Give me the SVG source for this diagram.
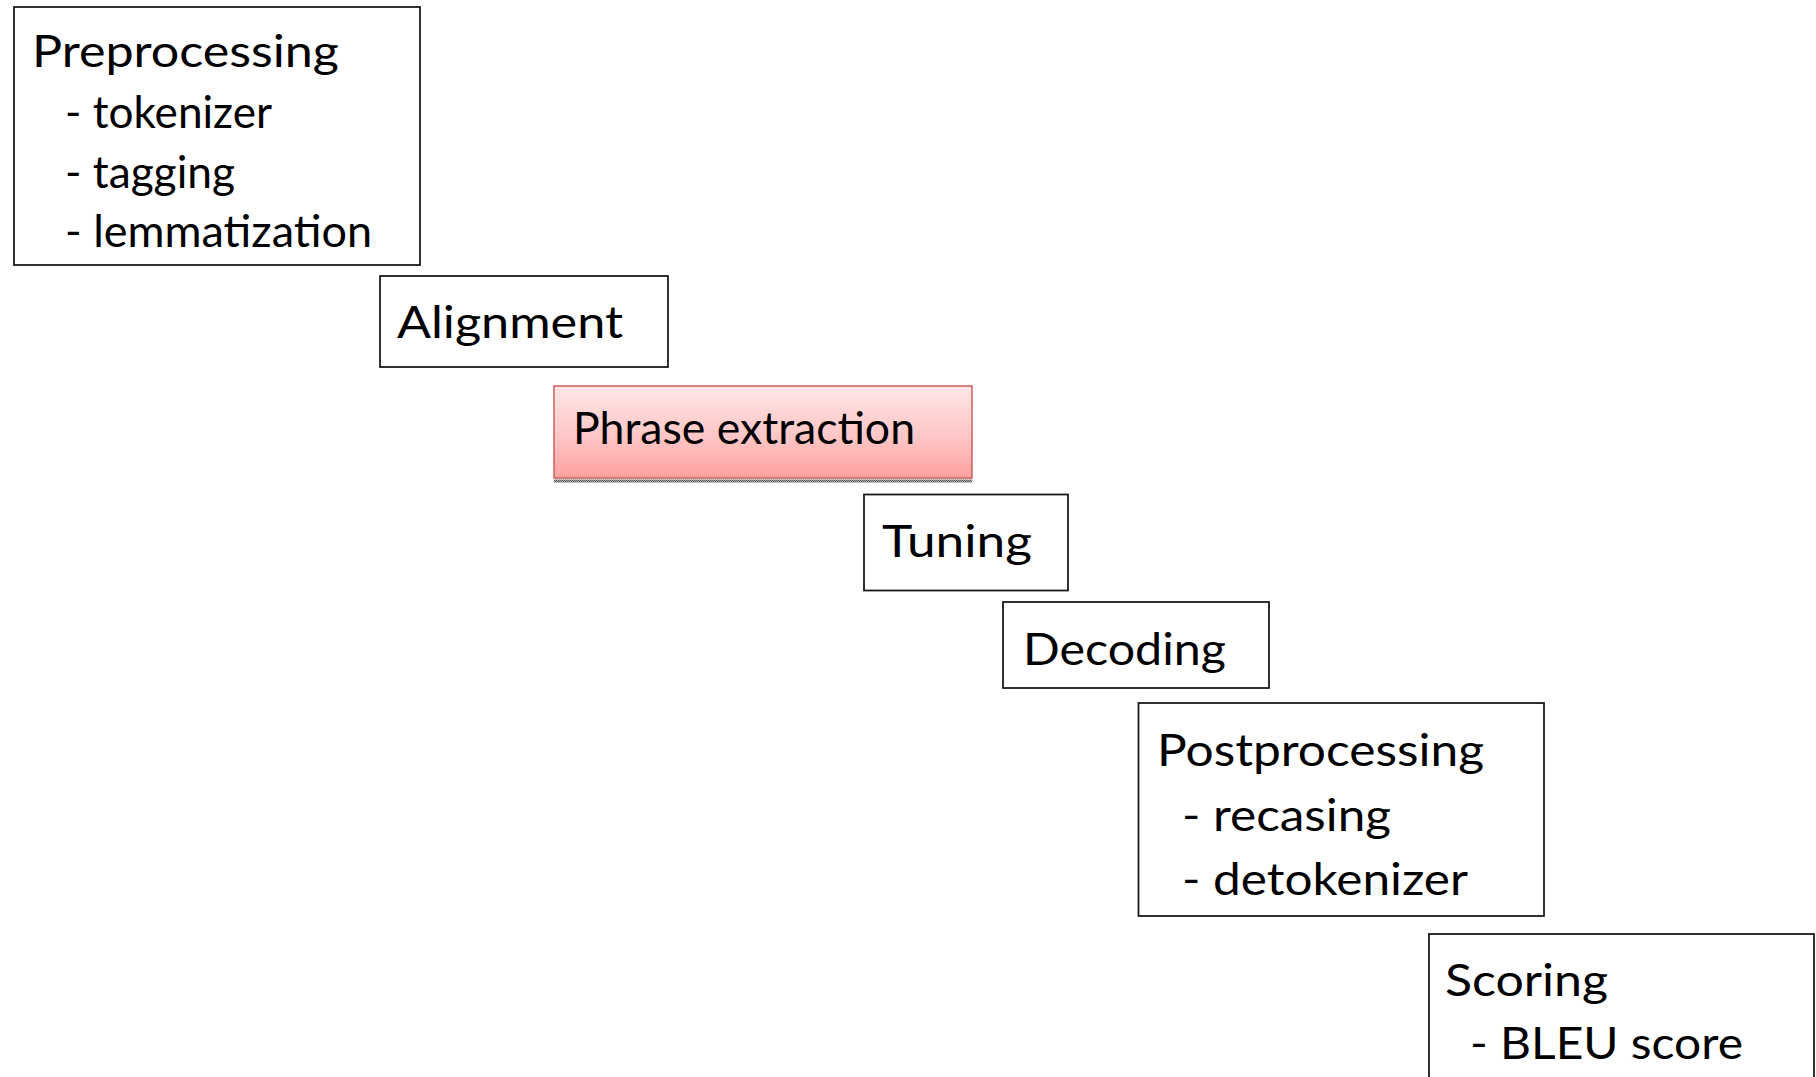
<svg xmlns="http://www.w3.org/2000/svg" width="1816" height="1077" viewBox="0 0 1816 1077">
  <style>
    .box { fill: #ffffff; stroke: #1a1a1a; stroke-width: 1.8; }
    .t { font-family: "Lato", "Open Sans", "Liberation Sans", sans-serif; font-size: 44px; fill: #000000; }
  </style>
  <defs>
    <linearGradient id="pinkGrad" x1="0" y1="0" x2="0" y2="1">
      <stop offset="0" stop-color="#FFE6E6"/>
      <stop offset="0.55" stop-color="#FFC6C6"/>
      <stop offset="1" stop-color="#FFA0A0"/>
    </linearGradient>
    <pattern id="checker" width="2" height="2" patternUnits="userSpaceOnUse">
      <rect x="0" y="0" width="2" height="2" fill="#b0b0b0"/>
      <rect x="0" y="0" width="1" height="1" fill="#505050"/>
      <rect x="1" y="1" width="1" height="1" fill="#505050"/>
    </pattern>
  </defs>
  <rect width="1816" height="1077" fill="#ffffff"/>

  <g id="preprocessing">
    <rect class="box" x="14" y="7" width="406" height="258"/>
    <text class="t" x="32" y="67" textLength="307" lengthAdjust="spacingAndGlyphs">Preprocessing</text>
    <text class="t" x="65" y="128" textLength="207" lengthAdjust="spacingAndGlyphs">- tokenizer</text>
    <text class="t" x="65" y="188" textLength="170" lengthAdjust="spacingAndGlyphs">- tagging</text>
    <text class="t" x="65" y="247" textLength="307" lengthAdjust="spacingAndGlyphs">- lemmatization</text>
  </g>

  <g id="alignment">
    <rect class="box" x="380" y="276" width="288" height="91"/>
    <text class="t" x="397" y="338" textLength="226" lengthAdjust="spacingAndGlyphs">Alignment</text>
  </g>

  <g id="phrase-extraction">
    <rect x="554" y="479.5" width="418" height="3" fill="url(#checker)"/>
    <rect x="554" y="386" width="418" height="92" fill="url(#pinkGrad)" stroke="#C9605C" stroke-width="1.5"/>
    <text class="t" x="573" y="444" textLength="342" lengthAdjust="spacingAndGlyphs">Phrase extraction</text>
  </g>

  <g id="tuning">
    <rect class="box" x="864" y="494.5" width="204" height="96"/>
    <text class="t" x="882" y="557" textLength="150" lengthAdjust="spacingAndGlyphs">Tuning</text>
  </g>

  <g id="decoding">
    <rect class="box" x="1003" y="602" width="266" height="86"/>
    <text class="t" x="1023" y="665" textLength="203" lengthAdjust="spacingAndGlyphs">Decoding</text>
  </g>

  <g id="postprocessing">
    <rect class="box" x="1138.5" y="703" width="405.5" height="213"/>
    <text class="t" x="1157" y="766" textLength="327" lengthAdjust="spacingAndGlyphs">Postprocessing</text>
    <text class="t" x="1182" y="831" textLength="209" lengthAdjust="spacingAndGlyphs">- recasing</text>
    <text class="t" x="1182" y="895" textLength="286" lengthAdjust="spacingAndGlyphs">- detokenizer</text>
  </g>

  <g id="scoring">
    <rect class="box" x="1429" y="934" width="385" height="170"/>
    <text class="t" x="1445" y="996" textLength="163" lengthAdjust="spacingAndGlyphs">Scoring</text>
    <text class="t" x="1470" y="1059" textLength="273" lengthAdjust="spacingAndGlyphs">- BLEU score</text>
  </g>
</svg>
